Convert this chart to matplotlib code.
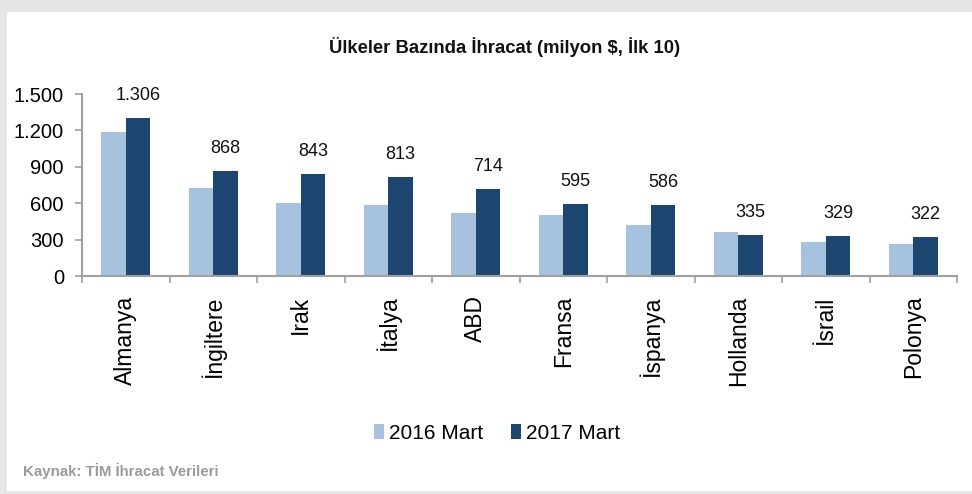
import matplotlib
matplotlib.use("Agg")
import matplotlib.pyplot as plt
import numpy as np
from matplotlib.patches import Rectangle

countries = ["Almanya", "İngiltere", "Irak", "İtalya", "ABD", "Fransa",
             "İspanya", "Hollanda", "İsrail", "Polonya"]
mart_2016 = [1190, 725, 604, 582, 522, 500, 420, 360, 279, 260]
mart_2017 = [1306, 868, 843, 813, 714, 595, 586, 335, 329, 322]
value_labels = ["1.306", "868", "843", "813", "714", "595", "586", "335", "329", "322"]
yticks = [0, 300, 600, 900, 1200, 1500]
ytick_labels = ["0", "300", "600", "900", "1.200", "1.500"]
series_names = ["2016 Mart", "2017 Mart"]

c16 = "#a6c2de"
c17 = "#1c4670"
axis_col = "#a0a0a0"
sans = ["Liberation Sans", "DejaVu Sans"]

fig = plt.figure(figsize=(9.72, 4.94), dpi=100)
fig.patch.set_facecolor("white")

# grey frame
fig.patches.append(Rectangle((0, 1 - 12/494), 1, 12/494, transform=fig.transFigure,
                             facecolor="#e6e6e6", edgecolor="none", zorder=0))
fig.patches.append(Rectangle((0, 0), 7/972, 1, transform=fig.transFigure,
                             facecolor="#e6e6e6", edgecolor="none", zorder=0))
fig.patches.append(Rectangle((0, 0), 1, 3/494, transform=fig.transFigure,
                             facecolor="#e6e6e6", edgecolor="none", zorder=0))

ax = fig.add_axes([82/972, (494-276)/494, (957-82)/972, (276-94)/494])
x = np.arange(len(countries))
w = 0.28
ax.bar(x - w/2, mart_2016, w, color=c16, label=series_names[0], zorder=2)
ax.bar(x + w/2, mart_2017, w, color=c17, label=series_names[1], zorder=2)

for xi, v, lab in zip(x, mart_2017, value_labels):
    ax.annotate(lab, (xi + w/2, v), xytext=(0, 10), textcoords="offset points",
                ha="center", va="bottom", fontsize=13, family=sans, color="#111111")

ax.set_xlim(-0.5, len(countries) - 0.5)
ax.set_ylim(0, 1500)
ax.set_yticks(yticks)
ax.set_yticklabels(ytick_labels, fontsize=14.5, family=sans)
ax.set_xticks(x)
ax.set_xticklabels(countries, rotation=90, fontsize=16.5, family=sans, va="top")
ax.tick_params(axis="x", which="major", length=0, pad=14)
ax.set_xticks(np.arange(-0.5, len(countries)), minor=True)
ax.tick_params(axis="x", which="minor", length=5, color=axis_col, width=1.2, direction="out")
ax.tick_params(axis="y", length=5, color=axis_col, width=1.2, direction="out", pad=8)

for s in ["top", "right"]:
    ax.spines[s].set_visible(False)
for s in ["left", "bottom"]:
    ax.spines[s].set_color(axis_col)
    ax.spines[s].set_linewidth(1.5)

fig.text(505/972, 1 - 47/494, "Ülkeler Bazında İhracat (milyon $, İlk 10)",
         ha="center", va="center", fontsize=13.3, fontweight="bold", family=sans,
         color="#111111")

leg = fig.legend(loc="center", bbox_to_anchor=(497/972, 1 - 433/494), ncol=2, frameon=False,
                 prop={"family": sans, "size": 15}, handlelength=0.5, handleheight=0.7,
                 handletextpad=0.25, columnspacing=1.3)

fig.text(23/972, 1 - 471/494, "Kaynak: TİM İhracat Verileri", ha="left", va="center",
         fontsize=10.8, fontweight="bold", family=sans, color="#9a9a9a")

fig.savefig("out.png", dpi=100)
